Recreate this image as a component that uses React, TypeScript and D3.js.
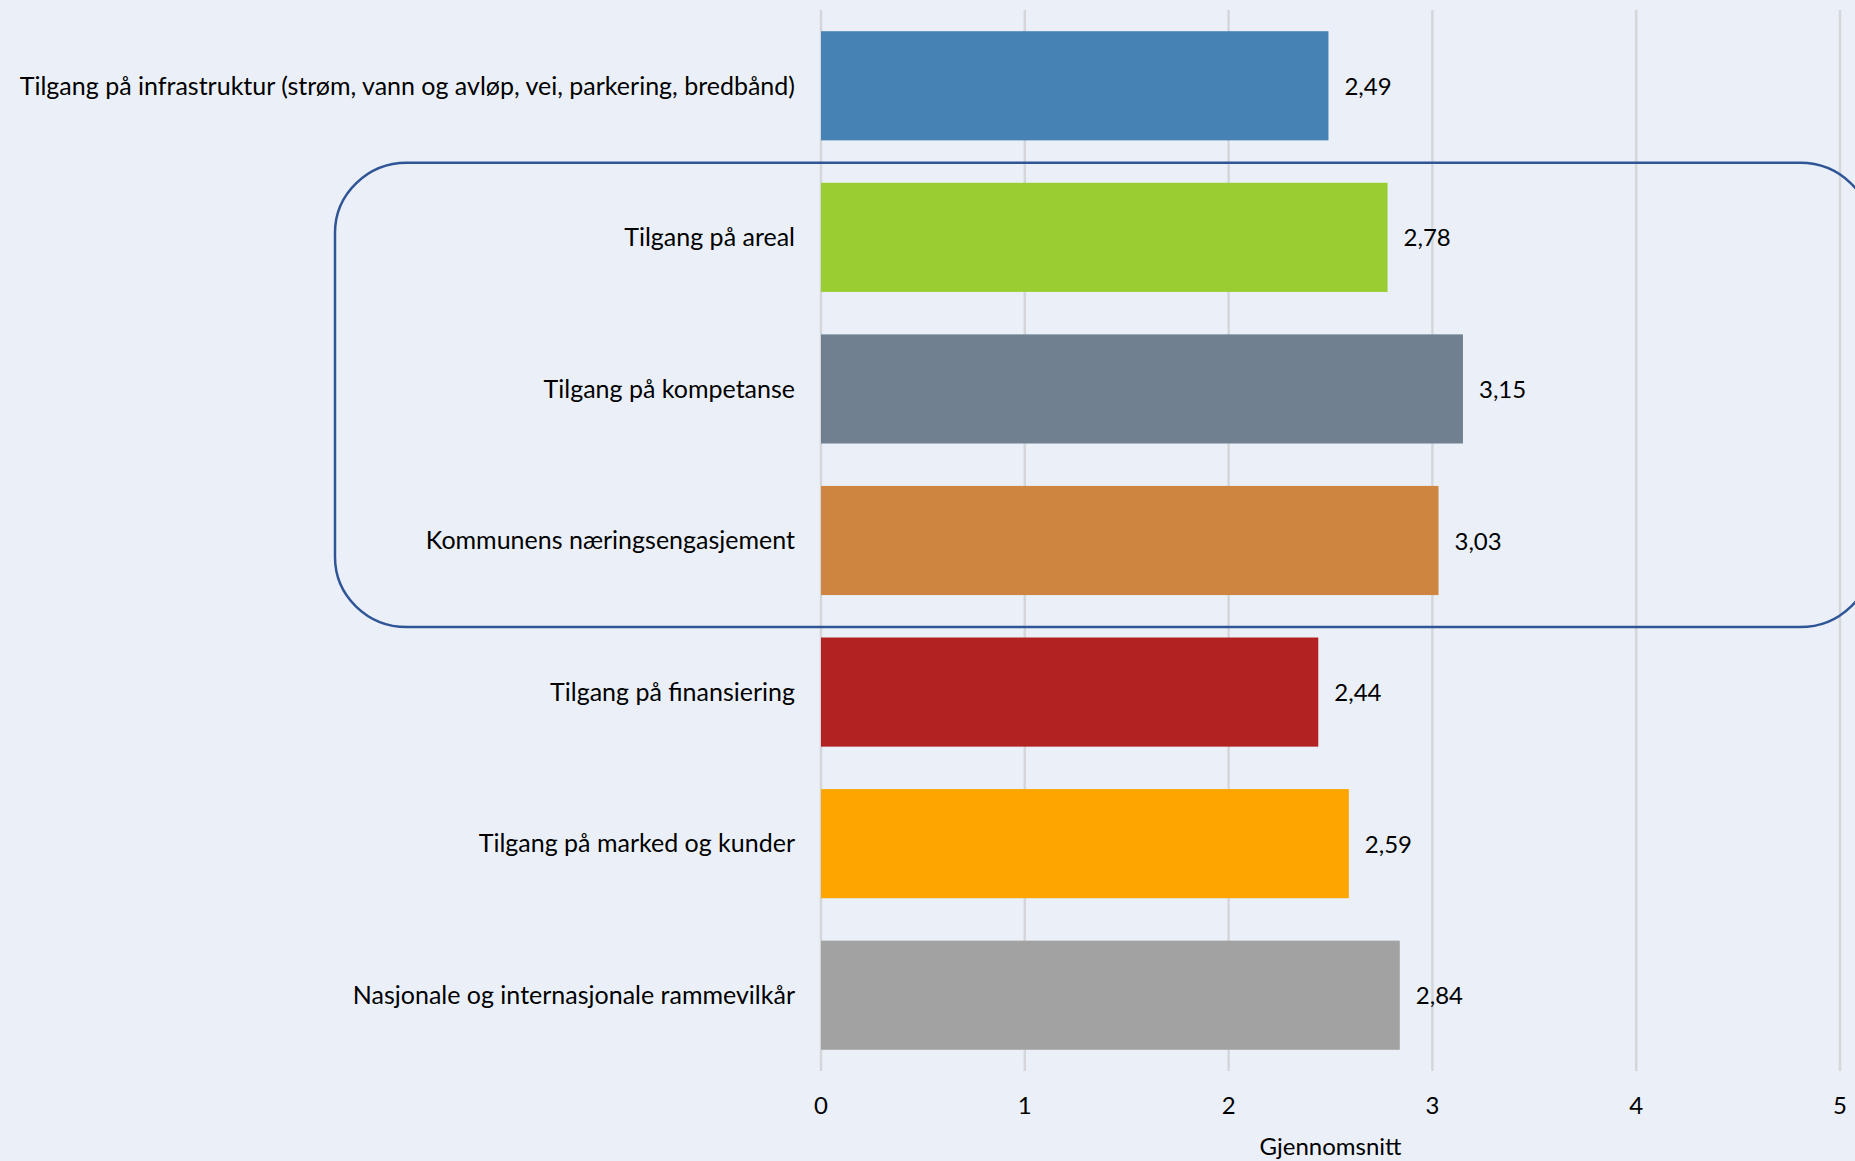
import React, { useRef, useEffect } from 'react';
import * as d3 from 'd3';

const categories = [
  'Tilgang på infrastruktur (strøm, vann og avløp, vei, parkering, bredbånd)',
  'Tilgang på areal',
  'Tilgang på kompetanse',
  'Kommunens næringsengasjement',
  'Tilgang på finansiering',
  'Tilgang på marked og kunder',
  'Nasjonale og internasjonale rammevilkår',
];
const values = [2.49, 2.78, 3.15, 3.03, 2.44, 2.59, 2.84];
const barColors = ['#4682B4', '#9ACD32', '#708090', '#CD853F', '#B22222', '#FFA500', '#A2A2A2'];
const xTicks = [0, 1, 2, 3, 4, 5];
const axisTitle = 'Gjennomsnitt';
// categories framed by the rounded box
const highlighted = ['Tilgang på areal', 'Kommunens næringsengasjement'];

const width = 1855;
const height = 1161;
const font = 'Lato, "Open Sans", sans-serif';

const BarChart: React.FC = () => {
  const svgRef = useRef<SVGSVGElement>(null);

  useEffect(() => {
    if (!svgRef.current) return;
    d3.select(svgRef.current).selectAll('*').remove();

    const svg = d3.select(svgRef.current).attr('width', width).attr('height', height);

    svg.append('rect').attr('width', width).attr('height', height).attr('fill', '#EBF0F8');

    const xScale = d3.scaleLinear().domain([0, 5]).range([821, 1840]);
    const yScale = d3
      .scaleBand()
      .domain(categories)
      .range([10, 1071])
      .paddingInner(0.28)
      .paddingOuter(0.14);

    // vertical grid lines
    svg
      .append('g')
      .selectAll('line')
      .data(xTicks)
      .enter()
      .append('line')
      .attr('x1', (d) => xScale(d))
      .attr('x2', (d) => xScale(d))
      .attr('y1', 10)
      .attr('y2', 1071)
      .attr('stroke', '#D4D6DA')
      .attr('stroke-width', 2.5);

    // bars
    svg
      .append('g')
      .selectAll('rect')
      .data(values)
      .enter()
      .append('rect')
      .attr('x', xScale(0))
      .attr('y', (_, i) => yScale(categories[i]) as number)
      .attr('width', (d) => xScale(d) - xScale(0))
      .attr('height', yScale.bandwidth())
      .attr('fill', (_, i) => barColors[i]);

    // value labels
    const fmt = (v: number) => d3.format('.2f')(v).replace('.', ',');
    svg
      .append('g')
      .selectAll('text')
      .data(values)
      .enter()
      .append('text')
      .attr('x', (d) => xScale(d) + 16)
      .attr('y', (_, i) => (yScale(categories[i]) as number) + yScale.bandwidth() / 2)
      .attr('dy', '0.38em')
      .style('font-family', font)
      .style('font-size', '24px')
      .style('fill', '#000')
      .text((d) => fmt(d));

    // category labels
    svg
      .append('g')
      .selectAll('text')
      .data(categories)
      .enter()
      .append('text')
      .attr('x', 795)
      .attr('y', (d) => (yScale(d) as number) + yScale.bandwidth() / 2)
      .attr('dy', '0.35em')
      .attr('text-anchor', 'end')
      .style('font-family', font)
      .style('font-size', '25px')
      .style('fill', '#000')
      .text((d) => d);

    // x tick labels
    svg
      .append('g')
      .selectAll('text')
      .data(xTicks)
      .enter()
      .append('text')
      .attr('x', (d) => xScale(d))
      .attr('y', 1114)
      .attr('text-anchor', 'middle')
      .style('font-family', font)
      .style('font-size', '24px')
      .style('fill', '#000')
      .text((d) => d);

    svg
      .append('text')
      .attr('x', (xScale(0) + xScale(5)) / 2)
      .attr('y', 1155)
      .attr('text-anchor', 'middle')
      .style('font-family', font)
      .style('font-size', '24px')
      .style('fill', '#000')
      .text(axisTitle);

    // rounded highlight box around the middle group
    const boxTop = (yScale(highlighted[0]) as number) - 20;
    const boxBottom = (yScale(highlighted[1]) as number) + yScale.bandwidth() + 32;
    svg
      .append('rect')
      .attr('x', 335)
      .attr('y', boxTop)
      .attr('width', 1872 - 335)
      .attr('height', boxBottom - boxTop)
      .attr('rx', 72)
      .attr('ry', 70)
      .attr('fill', 'none')
      .attr('stroke', '#2F5597')
      .attr('stroke-width', 2.5);
  }, []);

  return (
    <div style={{ position: 'absolute', left: 0, top: 0 }}>
      <svg ref={svgRef}></svg>
    </div>
  );
};

export default function App() {
  return <BarChart />;
}
